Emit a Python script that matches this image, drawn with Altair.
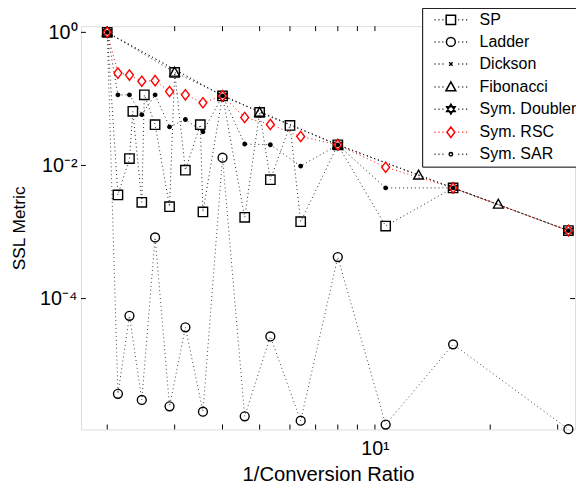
import altair as alt
import pandas as pd

SERIES = ["SP", "Ladder", "Dickson", "Fibonacci", "Sym. Doubler", "Sym. RSC", "Sym. SAR"]

binary_x = [2.0, 2.133, 2.286, 2.462, 2.667, 2.909, 3.2, 3.556, 4.0, 4.571, 5.333, 6.4, 8.0, 10.667, 16.0, 32.0]

sp_x = [2.0, 2.133, 2.286, 2.333, 2.462, 2.5, 2.667, 2.909, 3.0, 3.2, 3.5, 3.556, 4.0, 4.571,
        5.0, 5.333, 6.0, 6.4, 8.0, 10.667, 16.0, 32.0]
sp_y = [1.0, 0.0036, 0.0127, 0.065, 0.0028, 0.115, 0.041, 0.0024, 0.25, 0.0085, 0.041, 0.002,
        0.111, 0.00166, 0.0625, 0.0061, 0.04, 0.00143, 0.0204, 0.00123, 0.0046, 0.00105]

ladder_x = binary_x
ladder_y = [1.0, 3.7e-6, 5.5e-5, 3.0e-6, 8.3e-4, 2.4e-6, 3.7e-5, 2.0e-6, 0.0131, 1.7e-6,
            2.7e-5, 1.46e-6, 4.2e-4, 1.28e-6, 2.05e-5, 1.09e-6]

dickson_x = [2.0, 4.0, 8.0, 16.0, 32.0]
dickson_y = [1.0, 0.111, 0.0204, 0.0046, 0.00105]

fib_x = [2.0, 3.0, 5.0, 8.0, 13.0, 21.0]
fib_y = [1.0, 0.25, 0.0625, 0.0204, 0.0071, 0.0026]

doubler_x = [2.0, 4.0, 8.0, 16.0, 32.0]
doubler_y = [1.0, 0.111, 0.0204, 0.0046, 0.00105]

rsc_x = binary_x
rsc_y = [1.0, 0.244, 0.228, 0.184, 0.188, 0.129, 0.115, 0.0875, 0.111, 0.0525, 0.0413,
         0.0272, 0.0204, 0.0094, 0.0046, 0.00105]

sar_x = binary_x
sar_y = [1.0, 0.115, 0.115, 0.058, 0.115, 0.038, 0.049, 0.032, 0.111, 0.021, 0.0205,
         0.0098, 0.0204, 0.0046, 0.0046, 0.00105]

x_tick_values = [2, 3, 4, 5, 6, 7, 8, 9, 10, 20, 30]
y_tick_values = [1.0, 0.01, 0.0001]

rows = []
for name, xs, ys in [("SP", sp_x, sp_y), ("Ladder", ladder_x, ladder_y),
                     ("Dickson", dickson_x, dickson_y), ("Fibonacci", fib_x, fib_y),
                     ("Sym. Doubler", doubler_x, doubler_y), ("Sym. RSC", rsc_x, rsc_y),
                     ("Sym. SAR", sar_x, sar_y)]:
    for i, (xv, yv) in enumerate(zip(xs, ys)):
        rows.append({"series": name, "x": xv, "y": yv, "k": i, "s": SERIES.index(name)})
df = pd.DataFrame(rows)
xt = pd.DataFrame({"t": x_tick_values})
yt = pd.DataFrame({"t": y_tick_values})

W, H = 501, 409
FONT = "Liberation Sans"

xscale = alt.Scale(type="log", domain=[1.708, 33.3], nice=False)
yscale = alt.Scale(type="log", domain=[1.08e-6, 1.24], nice=False)

# marker paths (unit coordinates)
P_SQUARE = "M-0.95,-0.95L0.95,-0.95L0.95,0.95L-0.95,0.95Z"
P_CIRCLE = "M-0.9,0A0.9,0.9 0 1,0 0.9,0A0.9,0.9 0 1,0 -0.9,0Z"
P_X = "M-0.35,-0.35L0.35,0.35M-0.35,0.35L0.35,-0.35"
P_TRI = "M0,-1.05L1.0,0.75L-1.0,0.75Z"
P_HEX = "M0,-1L0.866,0.5L-0.866,0.5ZM0,1L0.866,-0.5L-0.866,-0.5Z"
P_DIAM = "M0,-1.05L0.8,0L0,1.05L-0.8,0Z"
P_DOT = "M-0.35,0A0.35,0.35 0 1,0 0.35,0A0.35,0.35 0 1,0 -0.35,0Z"
marker_paths = [P_SQUARE, P_CIRCLE, P_X, P_TRI, P_HEX, P_DIAM, P_DOT]
DOTS = "M-3.3,0L-3.12,0M-2.5,0L-2.32,0M-1.7,0L-1.52,0M1.52,0L1.7,0M2.32,0L2.5,0M3.12,0L3.3,0"
legend_paths = [DOTS + p for p in marker_paths]

stroke_colors = ["black", "black", "black", "black", "black", "#ff0000", "black"]
line_colors = ["#222222", "#444444", "#222222", "#222222", "#222222", "#ff0000", "#222222"]
fill_colors = ["transparent", "transparent", "transparent", "transparent", "transparent", "white", "black"]
stroke_widths = [1.4, 1.4, 1.2, 1.5, 1.3, 2.6, 1.0]

base = alt.Chart(df)

lines = base.mark_line(strokeDash=[1, 3], strokeWidth=1.0).encode(
    x=alt.X("x:Q", scale=xscale,
            axis=alt.Axis(values=[10], labelExpr="'10¹'", ticks=False, domain=False, grid=False,
                          labelFontSize=20, labelFont=FONT, labelColor="black", labelPadding=9,
                          title="1/Conversion Ratio", titleFont=FONT, titleFontSize=20.5,
                          titleFontWeight="normal", titleColor="black", titlePadding=7)),
    y=alt.Y("y:Q", scale=yscale,
            axis=alt.Axis(values=y_tick_values,
                          labelExpr="datum.value > 0.5 ? '10⁰' : (datum.value > 0.005 ? '10⁻²' : '10⁻⁴')",
                          ticks=False, domain=False, grid=False,
                          labelFontSize=20, labelFont=FONT, labelColor="black", labelPadding=4,
                          title="SSL Metric", titleFont=FONT, titleFontSize=17.5,
                          titleFontWeight="normal", titleColor="black", titlePadding=11)),
    color=alt.Color("series:N", scale=alt.Scale(domain=SERIES, range=line_colors), legend=None),
    detail="series:N",
    order="k:Q",
)

points = base.mark_point(opacity=1, filled=False).encode(
    x=alt.X("x:Q", scale=xscale),
    y=alt.Y("y:Q", scale=yscale),
    shape=alt.Shape("series:N", scale=alt.Scale(domain=SERIES, range=marker_paths), legend=None),
    stroke=alt.Stroke("series:N", scale=alt.Scale(domain=SERIES, range=stroke_colors), legend=None),
    fill=alt.Fill("series:N", scale=alt.Scale(domain=SERIES, range=fill_colors), legend=None),
    strokeWidth=alt.StrokeWidth("series:N", scale=alt.Scale(domain=SERIES, range=stroke_widths), legend=None),
    size=alt.value(100),
    order="s:Q",
)

legend_layer = base.mark_point(opacity=0, filled=False).encode(
    x=alt.X("x:Q", scale=xscale),
    y=alt.Y("y:Q", scale=yscale),
    shape=alt.Shape("series:N", scale=alt.Scale(domain=SERIES, range=legend_paths),
                    legend=alt.Legend(title=None, orient="none", legendX=346, legendY=-18.5,
                                      strokeColor="black", fillColor="white", padding=4,
                                      symbolOffset=17, labelOffset=21, symbolSize=100,
                                      symbolStrokeWidth=1.5, labelFont=FONT, labelFontSize=16.2,
                                      labelColor="black", rowPadding=5.4, labelLimit=300)),
    stroke=alt.Stroke("series:N", scale=alt.Scale(domain=SERIES, range=stroke_colors)),
    fill=alt.Fill("series:N", scale=alt.Scale(domain=SERIES, range=fill_colors)),
)

tick_x_bottom = alt.Chart(xt).mark_rule(color="black", strokeWidth=1).encode(
    x=alt.X("t:Q", scale=xscale), y=alt.value(H), y2=alt.value(H - 5))
tick_x_top = alt.Chart(xt).mark_rule(color="black", strokeWidth=1).encode(
    x=alt.X("t:Q", scale=xscale), y=alt.value(0), y2=alt.value(5))
tick_y_left = alt.Chart(yt).mark_rule(color="black", strokeWidth=1).encode(
    y=alt.Y("t:Q", scale=yscale), x=alt.value(0), x2=alt.value(5))
tick_y_right = alt.Chart(yt).mark_rule(color="black", strokeWidth=1).encode(
    y=alt.Y("t:Q", scale=yscale), x=alt.value(W), x2=alt.value(W - 5))

chart = alt.layer(
    tick_x_bottom, tick_x_top, tick_y_left, tick_y_right, lines, points, legend_layer
).resolve_scale(
    color="independent", shape="independent", fill="independent", stroke="independent",
    strokeWidth="independent"
).properties(
    width=W, height=H,
    autosize=alt.AutoSizeParams(type="none"),
    padding={"left": 74, "top": 15, "right": 1, "bottom": 57},
).configure_view(
    stroke="black", strokeWidth=1
).configure(background="white")

chart.save("out.html", embed_options={"renderer": "svg", "actions": False})
